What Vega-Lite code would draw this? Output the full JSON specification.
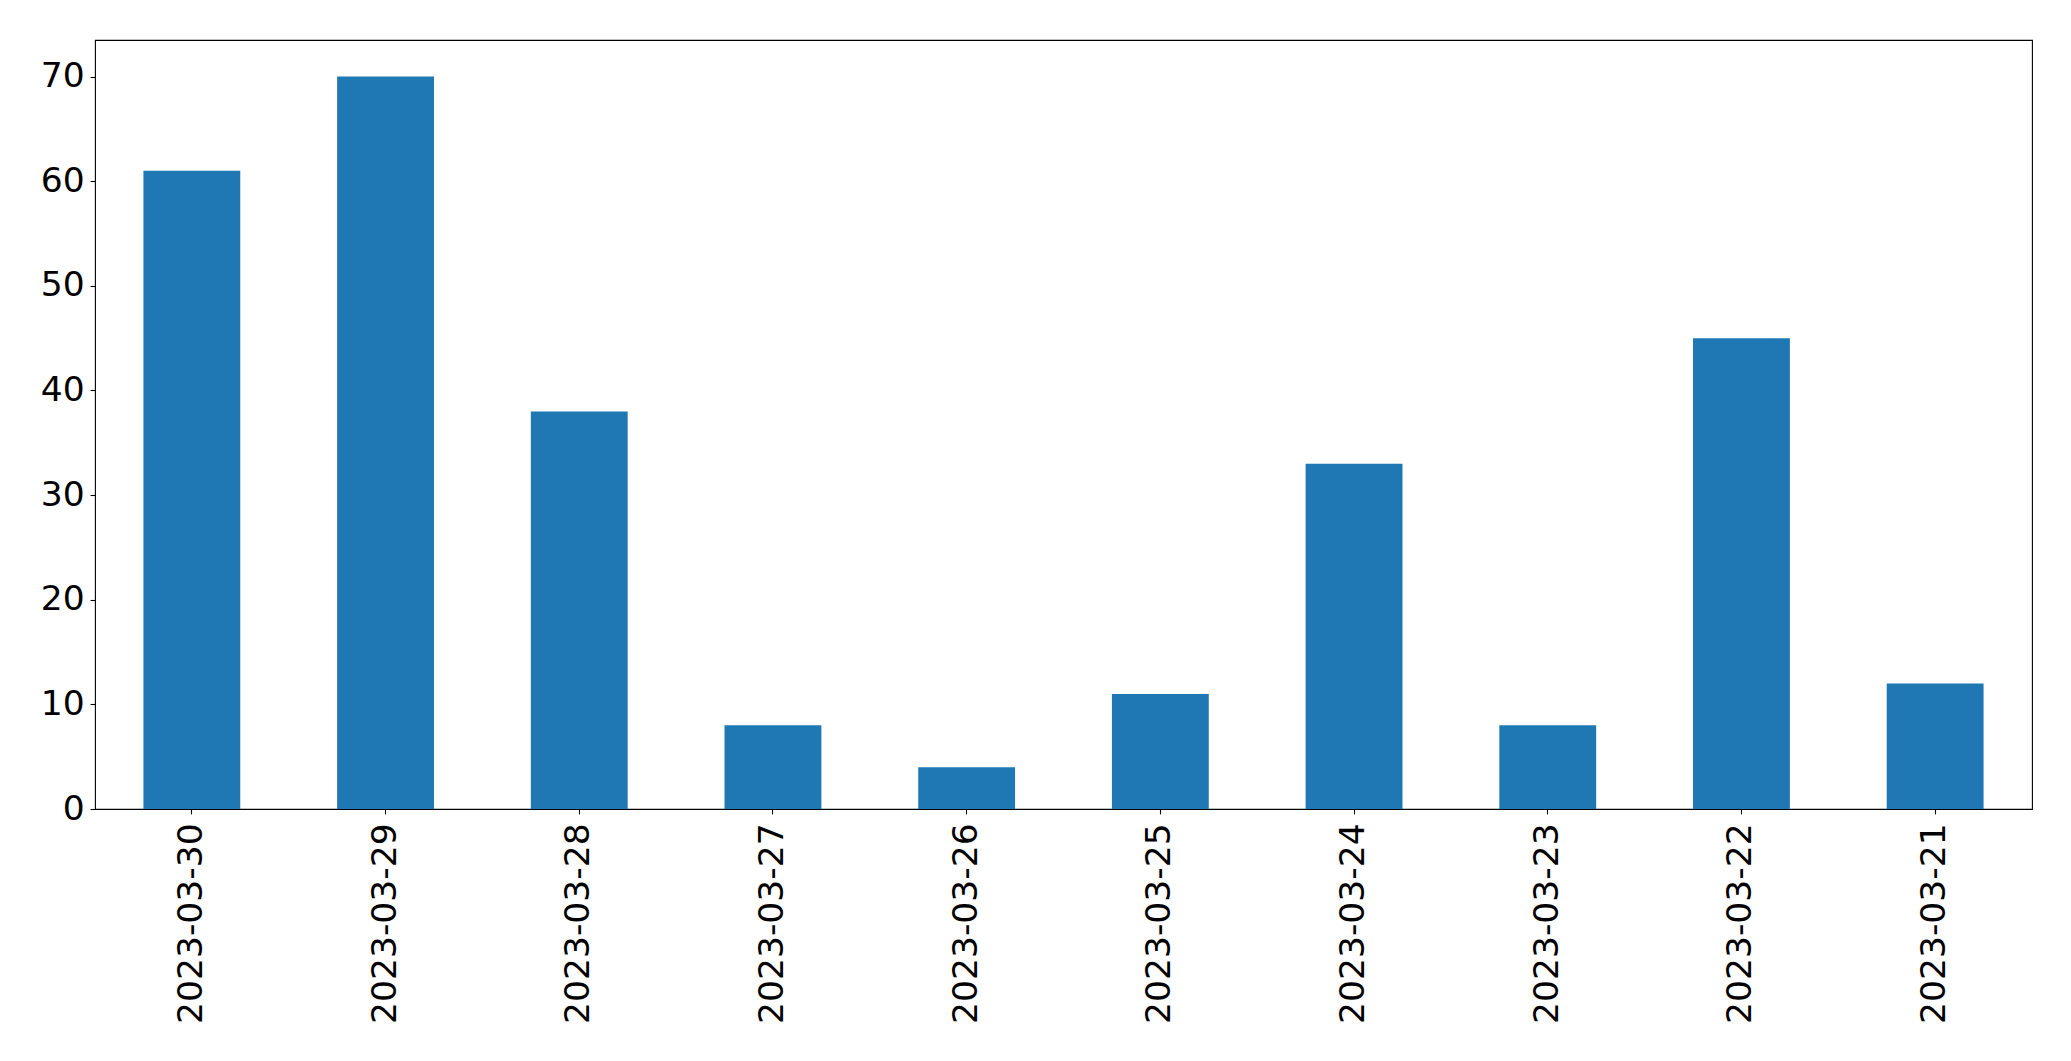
{
  "$schema": "https://vega.github.io/schema/vega-lite/v6.json",
  "autosize": {"type": "none"},
  "padding": {"left": 95, "top": 40, "right": 39, "bottom": 252},
  "width": 1937,
  "height": 769,
  "background": "white",
  "config": {
    "view": {"stroke": "black", "strokeWidth": 1.1},
    "axis": {
      "labelFont": "DejaVu Sans",
      "labelFontSize": 34.5,
      "labelColor": "black",
      "labelLimit": 0,
      "tickColor": "black",
      "tickWidth": 1.1,
      "tickSize": 4.9,
      "domain": false,
      "grid": false,
      "title": null
    }
  },
  "data": {
    "values": [
      {"date": "2023-03-30", "count": 61},
      {"date": "2023-03-29", "count": 70},
      {"date": "2023-03-28", "count": 38},
      {"date": "2023-03-27", "count": 8},
      {"date": "2023-03-26", "count": 4},
      {"date": "2023-03-25", "count": 11},
      {"date": "2023-03-24", "count": 33},
      {"date": "2023-03-23", "count": 8},
      {"date": "2023-03-22", "count": 45},
      {"date": "2023-03-21", "count": 12}
    ]
  },
  "mark": {"type": "bar", "color": "#1f77b4"},
  "encoding": {
    "x": {
      "field": "date",
      "type": "nominal",
      "sort": null,
      "scale": {"paddingInner": 0.5, "paddingOuter": 0.25},
      "axis": {"labelAngle": -90, "labelAlign": "right", "labelBaseline": "middle", "labelPadding": 9, "labelOverlap": false}
    },
    "y": {
      "field": "count",
      "type": "quantitative",
      "scale": {"domain": [0, 73.5], "nice": false, "zero": true},
      "axis": {"values": [0, 10, 20, 30, 40, 50, 60, 70], "labelPadding": 6, "labelOverlap": false, "labelBound": false, "labelFlush": false}
    }
  }
}
